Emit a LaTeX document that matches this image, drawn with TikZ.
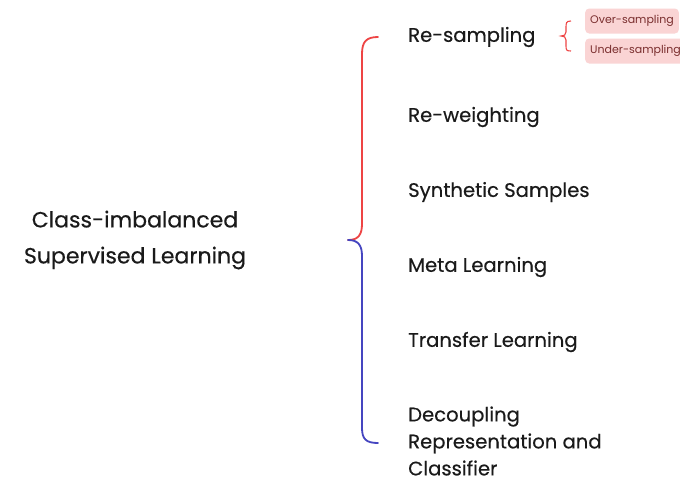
\documentclass[tikz,border=0pt]{standalone}
\usepackage{fontspec}
\setmainfont{Poppins}
\newfontfamily\medfont{Poppins}[FakeBold=0.35]
\definecolor{bracered}{HTML}{EE4444}
\definecolor{braceblue}{HTML}{4545C0}
\definecolor{tagfill}{HTML}{FAD4D4}
\definecolor{tagtext}{HTML}{7A2E2E}
\definecolor{ink}{HTML}{1A1A1A}
\begin{document}
\begin{tikzpicture}[x=1pt,y=1pt,
  item/.style={anchor=west,font=\medfont\fontsize{19.6}{22}\selectfont,text=ink,inner sep=0pt},
  root/.style={align=center,font=\medfont\fontsize{22}{36}\selectfont,text=ink},
  tag/.style={anchor=west,fill=tagfill,rounded corners=4pt,text=tagtext,
    font=\fontsize{11}{13}\selectfont,minimum height=25pt,inner xsep=5pt},
  bracel/.style={line width=1.8pt,line cap=round}]
\useasboundingbox (0,0) rectangle (680,-480);
\fill[white] (0,0) rectangle (680,-480);

% root topic
\node[root] (root) at (135,-240) {Class-imbalanced\\Supervised Learning};

% branch labels
\node[item] (rs) at (408,-37) {Re-sampling};
\node[item] (rw) at (408,-117) {Re-weighting};
\node[item] (ss) at (408,-192) {Synthetic Samples};
\node[item] (ml) at (408,-267) {Meta Learning};
\node[item] (tl) at (408,-342) {Transfer Learning};
\node[item,align=left,font=\medfont\fontsize{19.6}{27}\selectfont] (dc) at (408,-441) {Decoupling\\Representation and\\Classifier};

% main brace: red upper half, blue lower half
\coordinate (tip) at (348,-240);
\coordinate (top) at (378,-37);
\coordinate (bot) at (378,-443);
\draw[bracel,bracered] (top) .. controls (366,-37) and (362,-42) .. (362,-54)
  -- (362,-224) .. controls (362,-235) and (358,-240) .. (tip);
\draw[bracel,braceblue] (tip) .. controls (358,-240) and (362,-245) .. (362,-256)
  -- (362,-428) .. controls (362,-439) and (366,-443) .. (bot);

% sub-branches of re-sampling
\node[tag] (os) at (585,-21) {Over-sampling};
\node[tag] (us) at (585,-51) {Under-sampling};
\draw[bracered,line width=1.1pt] (571,-21) .. controls (566,-21) and (566,-23) .. (566,-28)
  -- (566,-32) .. controls (566,-35) and (564,-36) .. (561,-36)
  .. controls (564,-36) and (566,-37) .. (566,-40)
  -- (566,-45) .. controls (566,-50) and (566,-51) .. (571,-51);
\end{tikzpicture}
\end{document}
